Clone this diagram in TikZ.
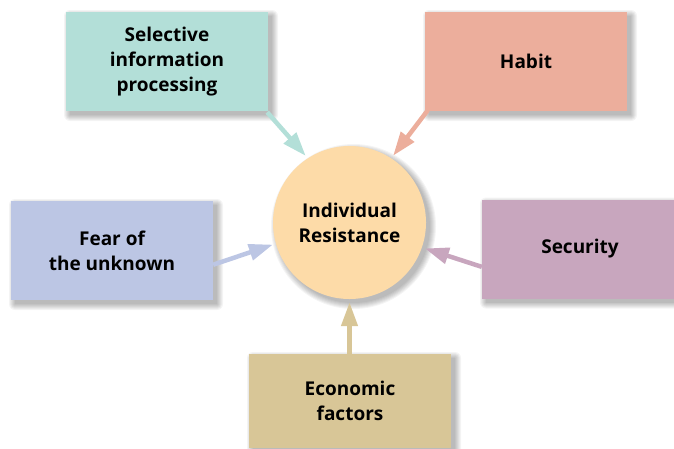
\documentclass[tikz,border=0pt]{standalone}
\usepackage{fontspec}
\setmainfont{Open Sans}
\usetikzlibrary{arrows.meta}
\definecolor{cteal}{HTML}{B3DFD8}
\definecolor{csalmon}{HTML}{ECAE9C}
\definecolor{cblue}{HTML}{BCC6E4}
\definecolor{cmauve}{HTML}{C8A6BE}
\definecolor{ctan}{HTML}{D8C697}
\definecolor{corange}{HTML}{FDDBA8}
\tikzset{
  shadowlayer/.style={black, opacity=0.045},
  factor/.style={rectangle, minimum width=202pt, minimum height=99pt, inner sep=0pt, align=center,
    font=\fontsize{19pt}{25pt}\selectfont\bfseries, text=black},
  hub/.style={circle, minimum size=153pt, inner sep=0pt, fill=corange, align=center,
    font=\fontsize{19pt}{25pt}\selectfont\bfseries},
  arr/.style={line width=4.5pt, -{Triangle[length=24pt,width=16pt]}, shorten >=3pt}
}
\newcommand\myrectshadow[4]{%
  \foreach \e in {0,...,6}{%
    \fill[shadowlayer, rounded corners=\e pt] (#1-#3/2+4-\e, #2-#4/2+4-\e) rectangle (#1+#3/2+4+\e, #2+#4/2+4+\e);
  }}
\newcommand\mycircshadow[3]{%
  \foreach \e in {0,...,6}{%
    \fill[shadowlayer] (#1+4, #2+4) circle[radius=#3+\e];
  }}
\begin{document}
\begin{tikzpicture}[x=1pt,y=-1pt]
\useasboundingbox (0,0) rectangle (674,448);
\clip (0,0) rectangle (674,448);
% shadows
\mycircshadow{349.5}{222.5}{76.5}
\myrectshadow{167}{61.5}{202}{99}
\myrectshadow{526}{61.5}{202}{99}
\myrectshadow{112}{250.5}{202}{99}
\myrectshadow{583}{249}{202}{99}
\myrectshadow{350}{401}{202}{94}
% nodes
\node[hub] (circ) at (349.5,222.5) {Individual\\Resistance};
\node[factor, fill=cteal] (sel) at (167,61.5) {Selective\\information\\processing};
\node[factor, fill=csalmon] (hab) at (526,61.5) {Habit};
\node[factor, fill=cblue] (fear) at (112,250.5) {Fear of\\the unknown};
\node[factor, fill=cmauve] (sec) at (583,249) {\hspace*{-6pt}Security};
\node[factor, fill=ctan, minimum height=94pt] (eco) at (350,401) {Economic\\factors};
% connectors
\draw[arr, draw=cteal] ([xshift=-1pt,yshift=-1pt]sel.south east) -- (circ.123);
\draw[arr, draw=csalmon] ([xshift=3pt,yshift=1pt]hab.south west) -- (circ.57);
\draw[arr, draw=cblue] (fear.-8.7) -- (circ.196.5);
\draw[arr, draw=cmauve] (sec.190.6) -- (circ.341.4);
\draw[arr, draw=ctan] ([xshift=-0.5pt]eco.north) -- (circ.south);
\end{tikzpicture}
\end{document}
